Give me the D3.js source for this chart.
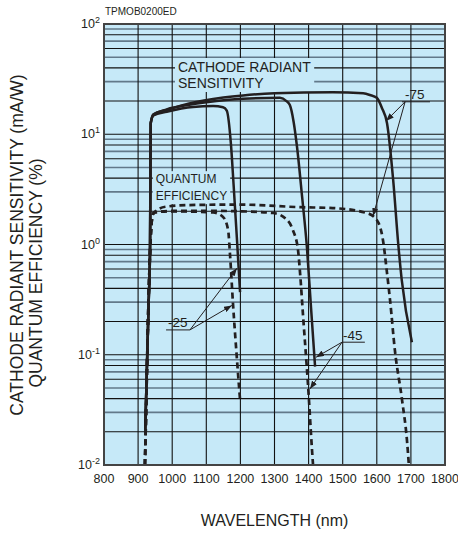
<!DOCTYPE html>
<html><head><meta charset="utf-8">
<script src="https://cdn.jsdelivr.net/npm/d3@7"></script>
<style>
body{margin:0;background:#fff}
svg{display:block}
text{font-family:"Liberation Sans",Arial,Helvetica,sans-serif;fill:#231f20}
</style>
</head><body>
<svg id="chart" width="458" height="537"></svg>
<script>
// ---------- data ----------
const docCode = "TPMOB0200ED";
const xTickValues = [800, 900, 1000, 1100, 1200, 1300, 1400, 1500, 1600, 1700, 1800];
const yDecadeExponents = [-2, -1, 0, 1, 2];
const xTitle = "WAVELENGTH (nm)";
const yTitleLine1 = "CATHODE RADIANT SENSITIVITY (mA/W)";
const yTitleLine2 = "QUANTUM EFFICIENCY (%)";

// wavelength (nm), cathode radiant sensitivity (mA/W)
const sensitivity25 = [[921,0.021],[926,0.08],[931,0.3],[935,0.9],[936,4],[937,12.6],[945,14.8],[984,16],[1061,17.7],[1120,18],[1149,17.6],[1160,16.4],[1172,8.3],[1180,3.5],[1190,1.1],[1199,0.37]];
const sensitivity45 = [[921,0.021],[926,0.08],[931,0.3],[935,0.9],[936,4],[937,12.6],[945,15],[984,16.8],[1050,18.5],[1100,19.5],[1208,21],[1316,21.4],[1335,20],[1345,18.4],[1356,13],[1366,7.7],[1381,2.7],[1395,0.95],[1407,0.27],[1419,0.078]];
const sensitivity75 = [[921,0.021],[926,0.08],[931,0.3],[935,0.9],[936,4],[937,12.6],[945,15.2],[984,16.6],[1050,19],[1150,21.5],[1208,22.5],[1300,23.5],[1471,24],[1560,23.5],[1580,22.7],[1600,21.4],[1615,17.3],[1630,12.6],[1648,3.85],[1663,1.0],[1673,0.48],[1703,0.13]];

// wavelength (nm), quantum efficiency (%)
const quantum25 = [[920,0.01],[923,0.026],[929,0.2],[935,0.85],[938,1.35],[942,1.8],[947,1.95],[1000,2.0],[1120,1.95],[1149,1.78],[1164,1.35],[1170,0.77],[1178,0.30],[1190,0.09],[1199,0.039]];
const quantum45 = [[920,0.01],[923,0.026],[929,0.2],[935,0.85],[938,1.35],[942,1.8],[947,1.95],[1000,2.02],[1100,2.02],[1200,2.0],[1296,1.93],[1337,1.67],[1354,1.35],[1369,0.89],[1375,0.55],[1384,0.22],[1398,0.055],[1410,0.0137],[1413,0.01]];
const quantum75 = [[920,0.01],[923,0.026],[929,0.2],[935,0.85],[938,1.35],[942,1.8],[947,1.95],[980,2.2],[1050,2.28],[1200,2.3],[1375,2.18],[1471,2.14],[1571,1.93],[1600,1.67],[1618,1.1],[1630,0.55],[1639,0.31],[1653,0.11],[1674,0.039],[1689,0.016],[1694,0.01]];

// ---------- layout ----------
const svg = d3.select("#chart");
const plot = {left:104, right:445, top:24, bottom:465};
const x = d3.scaleLinear().domain([800, 1800]).range([plot.left, plot.right]);
const y = d3.scaleLog().domain([0.01, 100]).range([plot.bottom, plot.top]);
const ink = "#231f20";
const bg = "#c6e9f8";

// background
svg.append("rect").attr("x", plot.left).attr("y", plot.top)
  .attr("width", plot.right - plot.left).attr("height", plot.bottom - plot.top)
  .attr("fill", bg);

// grid
const grid = svg.append("g");
const logTicks = y.ticks().filter(v => v > 0.01 && v < 100);
logTicks.forEach(v => {
  const m = Math.round(v / Math.pow(10, Math.floor(Math.log10(v) + 1e-9)));
  const odd = m % 2 === 1 && m !== 1;
  grid.append("line")
    .attr("x1", plot.left).attr("x2", plot.right)
    .attr("y1", y(v)).attr("y2", y(v))
    .attr("stroke", odd ? "#62798a" : "#111")
    .attr("stroke-width", odd ? 1.6 : 1.1);
});
xTickValues.slice(1, -1).forEach(v => {
  grid.append("line")
    .attr("x1", x(v)).attr("x2", x(v))
    .attr("y1", plot.top).attr("y2", plot.bottom)
    .attr("stroke", "#111").attr("stroke-width", 1.1);
});

// labels with masks
function maskedLabel(lines, nm, val, lineGap, size) {
  const g = svg.append("g");
  const mask = g.append("rect").attr("fill", bg);
  const t = g.append("text").attr("font-size", size);
  lines.forEach((s, i) => {
    t.append("tspan").attr("x", x(nm)).attr("y", y(val) + i * lineGap).text(s);
  });
  const b = t.node().getBBox();
  mask.attr("x", b.x - 3).attr("y", b.y - 1).attr("width", b.width + 6).attr("height", b.height + 2);
}
maskedLabel(["CATHODE RADIANT", "SENSITIVITY"], 1017, 36.7, 16, 14);
maskedLabel(["QUANTUM", "EFFICIENCY"], 952, 3.6, 17, 12);

// curves
const line = d3.line().x(d => x(d[0])).y(d => y(d[1])).curve(d3.curveMonotoneX);
const curves = svg.append("g").attr("fill", "none").attr("stroke", ink);
[sensitivity25, sensitivity45, sensitivity75].forEach(s => {
  curves.append("path").attr("d", line(s)).attr("stroke-width", 2.5)
    .attr("stroke-linejoin", "round");
});
[quantum25, quantum45, quantum75].forEach(s => {
  curves.append("path").attr("d", line(s)).attr("stroke-width", 2.7)
    .attr("stroke-dasharray", "6,4");
});

// annotations
svg.append("defs").append("marker").attr("id", "arr")
  .attr("viewBox", "0 0 8 6").attr("refX", 8).attr("refY", 3)
  .attr("markerWidth", 8).attr("markerHeight", 6)
  .attr("markerUnits", "userSpaceOnUse").attr("orient", "auto")
  .append("path").attr("d", "M0,0 L8,3 L0,6 Z").attr("fill", ink);

function callout(label, textAt, underline, origin, tips) {
  const g = svg.append("g");
  g.append("text").attr("x", x(textAt[0])).attr("y", y(textAt[1]))
    .attr("font-size", 13.5).text(label);
  g.append("line").attr("x1", x(underline[0])).attr("x2", x(underline[1]))
    .attr("y1", y(underline[2])).attr("y2", y(underline[2]))
    .attr("stroke", ink).attr("stroke-width", 1);
  tips.forEach(tp => {
    g.append("line").attr("x1", x(origin[0])).attr("y1", y(origin[1]))
      .attr("x2", x(tp[0])).attr("y2", y(tp[1]))
      .attr("stroke", ink).attr("stroke-width", 1).attr("marker-end", "url(#arr)");
  });
}
callout("-75", [1683, 20.9], [1674, 1756, 19.7], [1683, 19.7], [[1627, 13.2], [1589, 1.81]]);
callout("-25", [988, 0.179], [982, 1052, 0.168], [1052, 0.168], [[1190, 0.61], [1175, 0.28]]);
callout("-45", [1501, 0.136], [1498, 1565, 0.13], [1498, 0.13], [[1422, 0.095], [1404, 0.049]]);

// border
svg.append("rect").attr("x", plot.left).attr("y", plot.top)
  .attr("width", plot.right - plot.left).attr("height", plot.bottom - plot.top)
  .attr("fill", "none").attr("stroke", "#444").attr("stroke-width", 2);

// x tick labels
svg.append("g").selectAll("text").data(xTickValues).join("text")
  .attr("x", d => x(d)).attr("y", plot.bottom + 18)
  .attr("text-anchor", "middle").attr("font-size", 12.5).text(d => d);

// y tick labels
yDecadeExponents.forEach(e => {
  const t = svg.append("text").attr("x", plot.left - 4).attr("y", y(Math.pow(10, e)) + 4)
    .attr("text-anchor", "end").attr("font-size", 12.5);
  t.append("tspan").text("10");
  t.append("tspan").attr("dy", -5).attr("font-size", 9).text(String(e));
});

// titles
svg.append("text").attr("x", plot.left + 1).attr("y", 15).attr("font-size", 10).text(docCode);
svg.append("text").attr("x", (plot.left + plot.right) / 2).attr("y", 526)
  .attr("text-anchor", "middle").attr("font-size", 16).text(xTitle);
svg.append("text").attr("transform", "translate(23,245) rotate(-90)")
  .attr("text-anchor", "middle").attr("font-size", 17.5).text(yTitleLine1);
svg.append("text").attr("transform", "translate(42,273) rotate(-90)")
  .attr("text-anchor", "middle").attr("font-size", 17.5).text(yTitleLine2);
</script>
</body></html>
